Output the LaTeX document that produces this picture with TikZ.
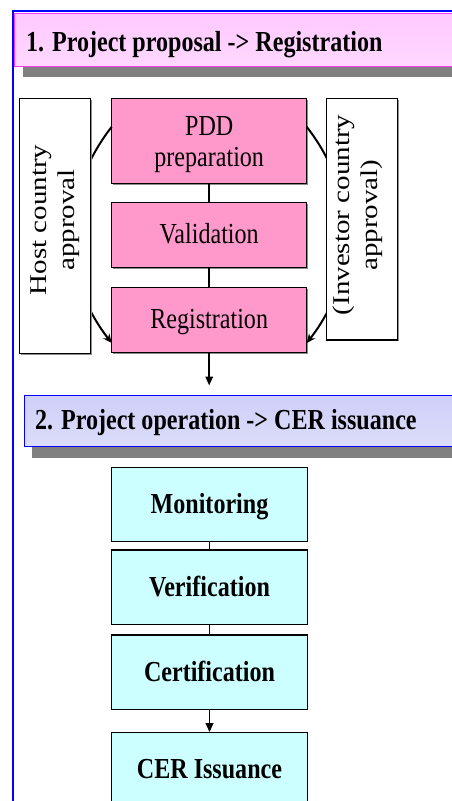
\documentclass[tikz,border=0pt]{standalone}
\usepackage{fontspec}
\setmainfont{Liberation Serif}
\usetikzlibrary{arrows.meta,shadows}
\definecolor{pinkbox}{HTML}{FF99CC}
\definecolor{cyanbox}{HTML}{CCFFFF}
\definecolor{frameblue}{HTML}{0000FF}
\definecolor{hdrpink}{HTML}{FFC8FF}
\definecolor{hdrpinkb}{HTML}{FFD8FF}
\definecolor{hdrlav}{HTML}{CFCFF8}
\definecolor{hdrlavb}{HTML}{DCDCFA}
\definecolor{hdrmag}{HTML}{FF33FF}
\definecolor{shadowgray}{HTML}{808080}
\newcommand{\sqz}[1]{\scalebox{0.83}[1]{#1}}
\newcommand{\sqzr}[1]{\scalebox{1}[0.83]{#1}}
\begin{document}
\begin{tikzpicture}[x=1pt,y=-1pt,
  every node/.style={outer sep=0pt,inner sep=0pt},
  bigfont/.style={font=\fontsize{29}{31.5}\selectfont},
  pinkstep/.style={draw=black,line width=1.3pt,fill=pinkbox,minimum width=195pt,bigfont,
    text height=19pt,text depth=2pt,
    drop shadow={shadow xshift=1.3pt,shadow yshift=-1.3pt,fill=black!45,opacity=1}},
  cyanstep/.style={draw=black,line width=1.3pt,fill=cyanbox,minimum width=195.6pt,minimum height=74.2pt,
    font=\fontsize{29}{31.5}\selectfont\bfseries,text height=19pt,text depth=1pt},
  sidebox/.style={draw=black,line width=1.3pt,fill=white,
    drop shadow={shadow xshift=1.3pt,shadow yshift=-1.3pt,fill=black!45,opacity=1}},
  sidetext/.style={rotate=90,align=center,font=\fontsize{29}{28.3}\selectfont},
  hdrtext/.style={anchor=base west,font=\fontsize{29}{34}\selectfont\bfseries},
  conn/.style={draw=black,line width=1.8pt},
  arrconn/.style={conn,-{Triangle[length=9pt,width=7.5pt]}},
  bendarrow/.style={draw=black,line width=2pt,-{Stealth[length=9pt,width=8pt]}}
]
\useasboundingbox (0,0) rectangle (452,801);
\clip (0,0) rectangle (452,801);
\fill[white] (0,0) rectangle (452,801);

% header 1
\fill[shadowgray] (23,24) rectangle (470,76.7);
\node[draw=hdrmag,line width=0.8pt,top color=hdrpink,middle color=white,bottom color=hdrpinkb,
  minimum width=446pt,minimum height=52.5pt] (h1) at (237,39.75) {};
\node[hdrtext] (h1t) at (26,51) {\sqz{1. Project proposal -> Registration}};

% pink steps
\node[pinkstep,minimum height=85pt,align=center,text height=51.8pt,text depth=0pt]
  (pdd) at (209.2,140.8) {\sqz{PDD}\\\sqz{preparation}};
\node[pinkstep,minimum height=65pt] (val) at (209.2,235.2) {\sqz{Validation}};
\node[pinkstep,minimum height=65.4pt] (reg) at (209.2,320) {\sqz{Registration}};

\draw[conn] (pdd.south) -- (val.north);
\draw[conn] (val.south) -- (reg.north);

% curved approvals (pass behind side boxes)
\draw[bendarrow] ([yshift=14pt]pdd.west) to[bend right=38] ([yshift=-23pt]reg.west);
\draw[bendarrow] ([yshift=14pt]pdd.east) to[bend left=38] ([yshift=-23pt]reg.east);

% side boxes
\node[sidebox,minimum width=71.4pt,minimum height=255pt] (host) at (55,225.8) {};
\node[sidetext] (hosttxt) at (55.5,220) {\sqzr{Host country}\\\sqzr{approval}};
\node[sidebox,minimum width=70.6pt,minimum height=241.7pt] (inv) at (362,219.2) {};
\node[sidetext] (invtxt) at (357.5,215) {\sqzr{(Investor country}\\\sqzr{approval)}};

% header 2
\fill[shadowgray] (32,406) rectangle (470,457.7);
\node[draw=frameblue,line width=0.8pt,top color=hdrlav,middle color=white,bottom color=hdrlavb,
  minimum width=436pt,minimum height=51.7pt] (h2) at (242,420.85) {};
\node[hdrtext] (h2t) at (35,429) {\sqz{2. Project operation -> CER issuance}};

\draw[arrconn,shorten >=9.5pt] (reg.south) -- (reg.south |- h2.north);

% cyan steps
\node[cyanstep] (mon) at (209.5,504.4) {\sqz{Monitoring}};
\node[cyanstep] (ver) at (209.5,587.2) {\sqz{Verification}};
\node[cyanstep] (cert) at (209.5,672.2) {\sqz{Certification}};
\node[cyanstep] (cer) at (209.5,769.3) {\sqz{CER Issuance}};

\draw[conn] (mon.south) -- (ver.north);
\draw[conn] (ver.south) -- (cert.north);
\draw[arrconn] (cert.south) -- (cer.north);

% page frame
\draw[frameblue,line width=2pt] (13.3,801) -- (13.3,11) -- (452,11);
\end{tikzpicture}
\end{document}
